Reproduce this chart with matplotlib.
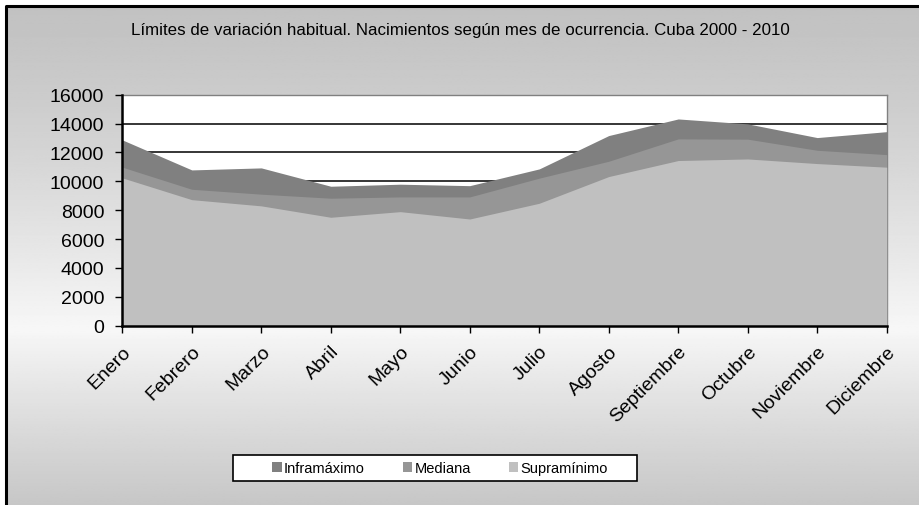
import numpy as np
import matplotlib
matplotlib.use("Agg")
import matplotlib.pyplot as plt
from matplotlib.patches import Rectangle

plt.rcParams["font.family"] = ["Liberation Sans", "DejaVu Sans"]

meses = ["Enero", "Febrero", "Marzo", "Abril", "Mayo", "Junio", "Julio",
         "Agosto", "Septiembre", "Octubre", "Noviembre", "Diciembre"]
inframaximo = [12870, 10790, 10930, 9660, 9800, 9700, 10860,
               13170, 14320, 13980, 13030, 13440]
mediana = [10980, 9450, 9110, 8830, 8920, 8920, 10220,
           11390, 12940, 12920, 12150, 11850]
supraminimo = [10240, 8730, 8300, 7510, 7900, 7390, 8480,
               10330, 11440, 11550, 11230, 10980]
yticks = list(range(0, 16001, 2000))

W, H = 920, 506
fig = plt.figure(figsize=(W / 100, H / 100), dpi=100)
fig.patch.set_facecolor("white")

# gradient background of the chart area
bg = fig.add_axes([0, 0, 1, 1], zorder=-10)
bg.set_axis_off()
rows = np.linspace(0, 1, 300)
mid = 0.65
shade = np.where(rows < mid, 0.76 + 0.21 * (rows / mid) ** 1.3,
                 0.97 - 0.19 * ((rows - mid) / (1 - mid)) ** 0.9)
img = np.repeat(shade[:, None], 2, axis=1)
x0, y0 = 6.5 / W, 0.0
x1, y1 = 1.0, 1 - 7 / H
bg.imshow(img, cmap="gray", vmin=0, vmax=1, aspect="auto",
          extent=(x0, x1, y0, y1), origin="upper")
bg.set_xlim(0, 1)
bg.set_ylim(0, 1)
bg.plot([x0, x0, x1], [y0, y1, y1], color="black", lw=2.2,
        solid_capstyle="butt")

# legend box (Excel draws it wider than its contents)
bg.add_patch(Rectangle((233 / W, 1 - 482 / H), (637 - 233) / W, 26 / H,
                       facecolor="white", edgecolor="black", lw=1.2,
                       zorder=5))

ax = fig.add_axes([122.3 / W, 1 - 326.7 / H, (886.7 - 122.3) / W,
                   (326.7 - 95.7) / H])
ax.set_facecolor("white")
x = np.arange(len(meses))
ax.fill_between(x, 0, inframaximo, color="#808080", lw=0, zorder=2,
                label="Inframáximo")
ax.fill_between(x, 0, mediana, color="#969696", lw=0, zorder=3,
                label="Mediana")
ax.fill_between(x, 0, supraminimo, color="#c0c0c0", lw=0, zorder=4,
                label="Supramínimo")
for y in yticks[1:]:
    ax.axhline(y, color="black", lw=1.1, zorder=1)

ax.set_xlim(0, len(meses) - 1)
ax.set_ylim(0, 16000)
ax.set_yticks(yticks)
ax.set_xticks(x)
ax.set_xticklabels(meses, rotation=45, ha="right", va="top",
                   rotation_mode="anchor")
ax.tick_params(axis="both", labelsize=14, colors="black", width=1,
               length=5)
ax.tick_params(axis="x", pad=7)
ax.tick_params(axis="y", pad=8)
for side in ("top", "right"):
    ax.spines[side].set_color("#808080")
    ax.spines[side].set_linewidth(1)
for side in ("left", "bottom"):
    ax.spines[side].set_color("black")
    ax.spines[side].set_linewidth(1.8)
    ax.spines[side].set_zorder(6)

fig.text(460 / W, 1 - 31 / H,
         "Límites de variación habitual. Nacimientos según mes de ocurrencia. Cuba 2000 - 2010",
         ha="center", va="center", fontsize=12.2)

leg = fig.legend(loc="center", bbox_to_anchor=(440 / W, 1 - 469 / H),
                 ncol=3, fontsize=10.5, frameon=False,
                 handlelength=0.65, handleheight=0.65, handletextpad=0.15,
                 columnspacing=2.6, borderpad=0, borderaxespad=0)

fig.savefig("out.png", dpi=100)
